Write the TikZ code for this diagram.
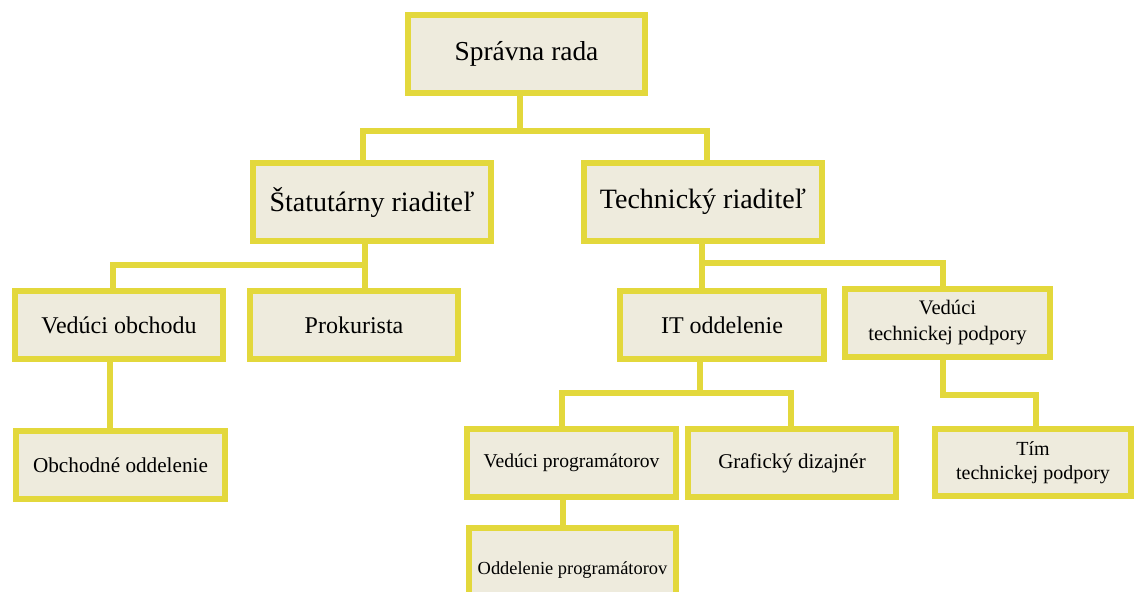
\documentclass[tikz,border=0pt]{standalone}
\usepackage{fontspec}
\setmainfont{Liberation Serif}
\definecolor{ybord}{RGB}{227,216,60}
\definecolor{bfill}{RGB}{238,235,221}
\begin{document}
\begin{tikzpicture}[x=0.5pt,y=-0.5pt,
  orgbox/.style={draw=ybord, line width=3pt, fill=bfill, inner sep=0pt, align=center, text=black},
  conn/.style={draw=ybord, line width=2.6pt}]
\useasboundingbox (0,0) rectangle (1134,591);
\clip (0,0) rectangle (1134,591);
\fill[white] (0,0) rectangle (1134,591);

\node[orgbox, minimum width=118.5pt, minimum height=39pt, font=\fontsize{13.7}{16}\selectfont] (sr) at (526.5,54) {Správna rada};
\node[orgbox, minimum width=119pt, minimum height=39pt, font=\fontsize{14}{16}\selectfont] (st) at (372,202) {Štatutárny riaditeľ};
\node[orgbox, minimum width=119pt, minimum height=39pt, font=\fontsize{14}{16}\selectfont] (tr) at (703,202) {Technický riaditeľ};
\node[orgbox, minimum width=104pt, minimum height=34pt, font=\fontsize{12}{14}\selectfont] (vo) at (119,325) {Vedúci obchodu};
\node[orgbox, minimum width=104pt, minimum height=34pt, font=\fontsize{12}{14}\selectfont] (pk) at (354,325) {Prokurista};
\node[orgbox, minimum width=102pt, minimum height=34pt, font=\fontsize{12}{14}\selectfont] (it) at (722,325) {IT oddelenie};
\node[orgbox, minimum width=102.5pt, minimum height=34pt, font=\fontsize{10.3}{13}\selectfont] (vt) at (947.5,323) {Vedúci\\technickej podpory};
\node[orgbox, minimum width=104.5pt, minimum height=34pt, font=\fontsize{10.6}{13}\selectfont] (oo) at (120.5,465) {Obchodné oddelenie};
\node[orgbox, minimum width=104.5pt, minimum height=34pt, font=\fontsize{9.8}{12}\selectfont] (vp) at (571.5,463) {Vedúci programátorov};
\node[orgbox, minimum width=104pt, minimum height=34pt, font=\fontsize{10.5}{12}\selectfont] (gd) at (792,463) {Grafický dizajnér};
\node[orgbox, minimum width=98pt, minimum height=33.5pt, font=\fontsize{10}{11.7}\selectfont] (tt) at (1033,462.5) {Tím\\technickej podpory};
\node[orgbox, minimum width=103.5pt, minimum height=42pt, font=\fontsize{9.2}{11}\selectfont] (op) at (572.5,570) {Oddelenie programátorov};

% level 1 -> 2
\coordinate (b1) at (520,131);
\coordinate (b1l) at (363,131);
\coordinate (b1r) at (707,131);
\draw[conn] (sr.south -| b1) -- (b1);
\draw[conn] (st.north -| b1l) |- (b1r) -- (tr.north -| b1r);

% Statutarny -> Veduci obchodu, Prokurista
\coordinate (b2l) at (113,265);
\coordinate (b2r) at (365,265);
\draw[conn] (st.south -| b2r) -- (pk.north -| b2r);
\draw[conn] (vo.north -| b2l) |- (b2r);

% Technicky -> IT, Veduci tech. podpory
\coordinate (b3l) at (702,263);
\coordinate (b3r) at (943,263);
\draw[conn] (tr.south -| b3l) -- (it.north -| b3l);
\draw[conn] (b3l) -| (vt.north -| b3r);

% IT -> Veduci programatorov, Graficky dizajner
\coordinate (b4) at (700,393);
\coordinate (b4l) at (562,393);
\coordinate (b4r) at (791,393);
\draw[conn] (it.south -| b4) -- (b4);
\draw[conn] (vp.north -| b4l) |- (b4r) -- (gd.north -| b4r);

% Veduci obchodu -> Obchodne oddelenie
\coordinate (c5) at (110,400);
\draw[conn] (vo.south -| c5) -- (oo.north -| c5);

% Veduci programatorov -> Oddelenie programatorov
\coordinate (c6) at (563,510);
\draw[conn] (vp.south -| c6) -- (op.north -| c6);

% Veduci tech. podpory -> Tim
\coordinate (c7) at (943,395);
\coordinate (c7r) at (1036,395);
\draw[conn] (vt.south -| c7) |- (c7r) -- (tt.north -| c7r);
\end{tikzpicture}
\end{document}
